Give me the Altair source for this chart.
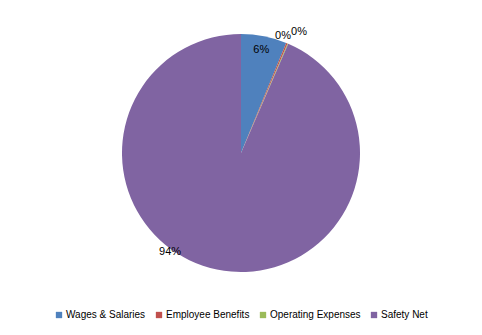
import altair as alt
import pandas as pd

categories = ["Wages & Salaries", "Employee Benefits", "Operating Expenses", "Safety Net"]
values = [6.2, 0.2, 0.1, 93.5]
colors = ["#4F81BD", "#C0504D", "#9BBB59", "#8064A2"]

total = sum(values)
labels = [f"{round(v / total * 100)}%" for v in values]
df = pd.DataFrame({"cat": categories, "val": values, "idx": list(range(len(categories))), "lab": labels})

CX, CY, R = 241, 153, 119

base = alt.Chart(df).encode(
    theta=alt.Theta("val:Q", stack=True),
    order=alt.Order("idx:Q"),
)

pie = base.mark_arc(radius=R).encode(
    x=alt.value(CX), y=alt.value(CY),
    color=alt.Color(
        "cat:N",
        scale=alt.Scale(domain=categories, range=colors),
        sort=categories,
        legend=alt.Legend(
            title=None, orient="none", direction="horizontal",
            legendX=54, legendY=310, symbolType="square", symbolSize=40,
            symbolStrokeWidth=0, labelFont="Liberation Sans", labelFontSize=10,
            labelColor="#000000", columnPadding=8, labelOffset=2,
        ),
    ),
)

def label_layer(i, radius, dx=0, dy=0):
    return base.mark_text(
        radius=radius, font="Liberation Sans", fontSize=11, color="#000000", dx=dx, dy=dy
    ).encode(
        x=alt.value(CX), y=alt.value(CY),
        text=alt.Text("t:N"),
    ).transform_calculate(t=f"datum.idx == {i} ? datum.lab : ''")

chart = alt.layer(
    pie,
    label_layer(0, 105),
    label_layer(1, 127, dx=-7),
    label_layer(2, 132, dx=6),
    label_layer(3, 118, dx=-47, dy=-17),
).properties(
    width=482, height=335,
    autosize=alt.AutoSizeParams(type="none"),
    padding=0,
).configure_view(stroke=None)

chart.save("out.html", embed_options={"renderer": "svg", "actions": False})
